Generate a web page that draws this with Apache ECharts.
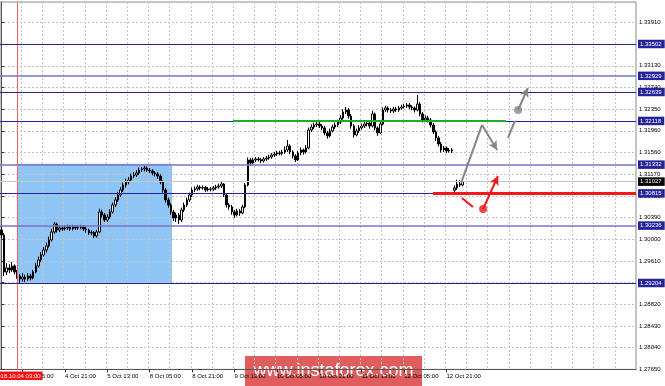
<!DOCTYPE html>
<html><head><meta charset="utf-8">
<script src="https://cdn.jsdelivr.net/npm/echarts@6/dist/echarts.min.js"></script>
<style>html,body{margin:0;padding:0;background:#fff}#c{width:665px;height:386px}</style>
</head><body><div id="c"></div>
<script>
// [open, close, low, high] H1 bars from 3 Oct 21:00
const bars = [
[1.30157,1.30067,1.30010,1.30230],[1.30067,1.29402,1.29330,1.30100],[1.29402,1.29474,1.29350,1.29560],[1.29474,1.29438,1.29380,1.29540],
[1.29438,1.29510,1.29400,1.29580],[1.29510,1.29402,1.29360,1.29540],[1.29402,1.29330,1.29280,1.29440],[1.29330,1.29276,1.29204,1.29360],
[1.29276,1.29312,1.29230,1.29380],[1.29312,1.29276,1.29220,1.29350],[1.29276,1.29330,1.29240,1.29380],[1.29330,1.29294,1.29250,1.29370],
[1.29294,1.29402,1.29270,1.29440],[1.29402,1.29510,1.29380,1.29560],[1.29510,1.29618,1.29480,1.29680],[1.29618,1.29708,1.29580,1.29760],
[1.29708,1.29798,1.29680,1.29850],[1.29798,1.29870,1.29750,1.29930],[1.29870,1.29978,1.29840,1.30040],[1.29978,1.30121,1.29950,1.30180],
[1.30121,1.30265,1.30090,1.30300],[1.30265,1.30157,1.30110,1.30290],[1.30157,1.30193,1.30120,1.30240],[1.30193,1.30175,1.30140,1.30230],
[1.30175,1.30193,1.30150,1.30240],[1.30193,1.30211,1.30160,1.30250],[1.30211,1.30175,1.30140,1.30240],[1.30175,1.30211,1.30150,1.30250],
[1.30211,1.30193,1.30160,1.30240],[1.30193,1.30200,1.30160,1.30240],[1.30200,1.30211,1.30170,1.30250],[1.30211,1.30175,1.30140,1.30240],
[1.30175,1.30157,1.30110,1.30210],[1.30157,1.30103,1.30070,1.30180],[1.30103,1.30110,1.30060,1.30150],[1.30110,1.30049,1.30010,1.30140],
[1.30049,1.30121,1.30020,1.30160],[1.30121,1.30481,1.30100,1.30540],[1.30481,1.30427,1.30380,1.30520],[1.30427,1.30337,1.30300,1.30460],
[1.30337,1.30391,1.30300,1.30440],[1.30391,1.30481,1.30360,1.30530],[1.30481,1.30607,1.30450,1.30650],[1.30607,1.30697,1.30570,1.30750],
[1.30697,1.30787,1.30660,1.30840],[1.30787,1.30877,1.30750,1.30930],[1.30877,1.30966,1.30840,1.31010],[1.30966,1.31020,1.30920,1.31080],
[1.31020,1.31056,1.30980,1.31110],[1.31056,1.31128,1.31020,1.31170],[1.31128,1.31146,1.31090,1.31200],[1.31146,1.31182,1.31110,1.31230],
[1.31182,1.31236,1.31150,1.31280],[1.31236,1.31254,1.31200,1.31290],[1.31254,1.31272,1.31210,1.31308],[1.31272,1.31236,1.31200,1.31300],
[1.31236,1.31218,1.31180,1.31270],[1.31218,1.31182,1.31140,1.31250],[1.31182,1.31164,1.31120,1.31220],[1.31164,1.31128,1.31080,1.31200],
[1.31128,1.31020,1.30980,1.31160],[1.31020,1.30877,1.30830,1.31050],[1.30877,1.30697,1.30650,1.30910],[1.30697,1.30607,1.30560,1.30740],
[1.30607,1.30481,1.30430,1.30640],[1.30481,1.30373,1.30320,1.30520],[1.30373,1.30427,1.30300,1.30470],[1.30427,1.30337,1.30265,1.30460],
[1.30337,1.30517,1.30300,1.30560],[1.30517,1.30607,1.30480,1.30650],[1.30607,1.30697,1.30570,1.30740],[1.30697,1.30787,1.30660,1.30830],
[1.30787,1.30877,1.30750,1.30920],[1.30877,1.30895,1.30840,1.30940],[1.30895,1.30930,1.30860,1.30970],[1.30930,1.30913,1.30870,1.30960],
[1.30913,1.30920,1.30880,1.30960],[1.30920,1.30877,1.30840,1.30950],[1.30877,1.30895,1.30850,1.30930],[1.30895,1.30890,1.30850,1.30930],
[1.30890,1.30913,1.30860,1.30950],[1.30913,1.30930,1.30880,1.30970],[1.30930,1.30948,1.30900,1.30990],[1.30948,1.30984,1.30910,1.31020],
[1.30984,1.30787,1.30750,1.31000],[1.30787,1.30607,1.30560,1.30820],[1.30607,1.30571,1.30520,1.30640],[1.30571,1.30481,1.30430,1.30610],
[1.30481,1.30427,1.30373,1.30520],[1.30427,1.30499,1.30400,1.30540],[1.30499,1.30463,1.30410,1.30530],[1.30463,1.30571,1.30440,1.30610],
[1.30571,1.30966,1.30550,1.31000],[1.30966,1.31416,1.30940,1.31460],[1.31416,1.31362,1.31310,1.31450],[1.31362,1.31416,1.31340,1.31460],
[1.31416,1.31434,1.31380,1.31470],[1.31434,1.31420,1.31390,1.31470],[1.31420,1.31398,1.31360,1.31450],[1.31398,1.31434,1.31370,1.31470],
[1.31434,1.31452,1.31400,1.31490],[1.31452,1.31470,1.31420,1.31510],[1.31470,1.31506,1.31440,1.31540],[1.31506,1.31524,1.31470,1.31560],
[1.31524,1.31542,1.31490,1.31580],[1.31542,1.31535,1.31500,1.31580],[1.31535,1.31560,1.31500,1.31600],[1.31560,1.31596,1.31530,1.31660],
[1.31596,1.31668,1.31560,1.31776],[1.31668,1.31560,1.31520,1.31700],[1.31560,1.31488,1.31440,1.31590],[1.31488,1.31416,1.31380,1.31520],
[1.31416,1.31542,1.31400,1.31580],[1.31542,1.31596,1.31500,1.31640],[1.31596,1.31560,1.31510,1.31620],[1.31560,1.31632,1.31530,1.31680],
[1.31632,1.31956,1.31610,1.32000],[1.31956,1.32009,1.31920,1.32060],[1.32009,1.32045,1.31970,1.32090],[1.32045,1.32063,1.32010,1.32110],
[1.32063,1.32027,1.31990,1.32100],[1.32027,1.31992,1.31950,1.32060],[1.31992,1.31902,1.31860,1.32030],[1.31902,1.31848,1.31800,1.31940],
[1.31848,1.31938,1.31820,1.31980],[1.31938,1.32009,1.31910,1.32050],[1.32009,1.32045,1.31970,1.32090],[1.32045,1.32099,1.32010,1.32140],
[1.32099,1.32171,1.32060,1.32220],[1.32171,1.32279,1.32140,1.32330],[1.32279,1.32315,1.32240,1.32369],[1.32315,1.32207,1.32160,1.32350],
[1.32207,1.32027,1.31980,1.32240],[1.32027,1.31866,1.31820,1.32060],[1.31866,1.31938,1.31840,1.31980],[1.31938,1.31992,1.31900,1.32040],
[1.31992,1.32027,1.31960,1.32070],[1.32027,1.32063,1.31990,1.32110],[1.32063,1.32081,1.32020,1.32130],[1.32081,1.32027,1.31980,1.32120],
[1.32027,1.32243,1.32000,1.32300],[1.32243,1.31992,1.31950,1.32270],[1.31992,1.31902,1.31850,1.32020],[1.31902,1.32063,1.31880,1.32110],
[1.32063,1.32315,1.32040,1.32360],[1.32315,1.32351,1.32280,1.32390],[1.32351,1.32315,1.32270,1.32380],[1.32315,1.32297,1.32260,1.32350],
[1.32297,1.32333,1.32260,1.32370],[1.32333,1.32315,1.32280,1.32370],[1.32315,1.32351,1.32280,1.32390],[1.32351,1.32369,1.32320,1.32410],
[1.32369,1.32387,1.32340,1.32420],[1.32387,1.32405,1.32350,1.32440],[1.32405,1.32369,1.32330,1.32440],[1.32369,1.32351,1.32310,1.32400],
[1.32351,1.32315,1.32270,1.32380],[1.32315,1.32423,1.32290,1.32585],[1.32423,1.32243,1.32200,1.32460],[1.32243,1.32135,1.32090,1.32280],
[1.32135,1.32171,1.32100,1.32220],[1.32171,1.32135,1.32090,1.32210],[1.32135,1.32045,1.32000,1.32170],[1.32045,1.31920,1.31880,1.32080],
[1.31920,1.31812,1.31760,1.31950],[1.31812,1.31704,1.31660,1.31850],[1.31704,1.31596,1.31550,1.31740],[1.31596,1.31632,1.31560,1.31670],
[1.31632,1.31578,1.31540,1.31660],[1.31578,1.31596,1.31550,1.31630],[1.31596,1.31578,1.31540,1.31630],
[1.30870,1.30913,1.30841,1.30960],[1.30913,1.30984,1.30880,1.31060],[1.30984,1.30966,1.30930,1.31050],[1.30966,1.31027,1.30940,1.31070]
];
const nCats = 240;
const xLabels = ['4 Oct 05:00','4 Oct 21:00','5 Oct 13:00','8 Oct 05:00','8 Oct 21:00','9 Oct 13:00','10 Oct 05:00','10 Oct 21:00','11 Oct 13:00','12 Oct 05:00','12 Oct 21:00'];
const yLabels = ['1.27650','1.28040','1.28430','1.28820','1.29220','1.29610','1.30000','1.30390','1.30780','1.31170','1.31560','1.31960','1.32350','1.32740','1.33130','1.33520','1.33910'];
const yMin = 1.2765, yMax = 1.34257, yStep = 0.0039;
const levels = [1.33502, 1.32929, 1.32639, 1.32118, 1.31332, 1.30815, 1.30236, 1.29204];
const levelLight = [false, true, false, false, true, false, true, false];
const bidPrice = 1.31027;
const markerIdx = 6, markerText = '2018.10.04 03:00';
const zoneX = [6, 64.4], zoneY = [1.3135, 1.29204];
const greenX = [87.4, 190.4], greenY = 1.32118;
const redX = [162.9, 239.5], redY = 1.30815;
const grayPath = [[173.5, 1.31003], [181.4, 1.32046], [187.1, 1.31596]];
const graySeg = [[191.2, 1.31812], [193.8, 1.32117]];
const grayDot = [195, 1.32315], grayTip = [198.7, 1.32711];
const redSeg = [[173.8, 1.30733], [178, 1.30571]];
const redDot = [181.8, 1.30535], redTip = [187.4, 1.31128];

const FONT = 'Liberation Sans';
const NAVY = '#24249a';
const cats = Array.from({length: nCats}, (_, i) => String(i));
const isLab = i => i >= 8 && i <= 168 && (i - 8) % 16 === 0;

function seg(a, b, color, width, arrow) {
  return [{coord: a, symbol: 'none', lineStyle: {color, width, type: 'solid'}},
          {coord: b, symbol: arrow ? 'arrow' : 'none', symbolSize: arrow ? [7, 9] : 0}];
}

const levelLines = levels.map((v, i) => ({
  yAxis: v,
  lineStyle: {color: levelLight[i] ? '#7676c6' : NAVY, width: levelLight[i] ? 1.5 : 1.2, type: 'solid'},
  label: {show: true, position: 'end', distance: 2, formatter: v.toFixed(5), color: '#fff',
    backgroundColor: NAVY, padding: [1.5, 3, 1, 2], fontSize: 6, fontFamily: FONT}
}));
levelLines.push({
  yAxis: bidPrice, lineStyle: {color: '#c8c8c8', width: 1, type: 'solid'},
  label: {show: true, position: 'end', distance: 2, formatter: bidPrice.toFixed(5), color: '#fff',
    backgroundColor: '#000', padding: [1.5, 3, 1, 2], fontSize: 6, fontFamily: FONT}
});

const chart = echarts.init(document.getElementById('c'), null, {renderer: 'canvas'});
chart.setOption({
  animation: false,
  backgroundColor: '#fff',
  grid: {left: 0, right: 29, top: 2, bottom: 16.6, show: true, borderColor: '#8a8a8a', borderWidth: 1, containLabel: false},
  xAxis: [{
    type: 'category', data: cats, boundaryGap: true,
    axisLine: {show: true, lineStyle: {color: '#555', width: 1}},
    axisTick: {show: true, alignWithLabel: true, length: 3, interval: (i) => isLab(i), lineStyle: {color: '#333'}},
    axisLabel: {show: true, interval: (i) => isLab(i), align: 'left', margin: 4, fontSize: 6, fontFamily: FONT, color: '#000',
      formatter: (v, i) => xLabels[(i - 8) / 16] || ''},
    splitLine: {show: true, interval: (i) => i % 8 === 0, lineStyle: {color: '#c4c4c4', width: 1, type: [2, 2]}}
  }, {
    type: 'value', min: -0.5, max: nCats - 0.5, show: false, splitLine: {show: false}
  }],
  yAxis: {
    type: 'value', position: 'right', min: yMin, max: yMax, interval: yStep, scale: true,
    axisLine: {show: true, lineStyle: {color: '#555', width: 1}},
    axisTick: {show: true, length: 3, lineStyle: {color: '#333'}},
    axisLabel: {show: true, margin: 3, fontSize: 6, fontFamily: FONT, color: '#000', showMaxLabel: false,
      formatter: v => { const k = Math.round((v - yMin) / yStep); return Math.abs(yMin + k * yStep - v) < 1e-6 ? (yLabels[k] || '') : ''; }},
    splitLine: {show: true, lineStyle: {color: '#c4c4c4', width: 1, type: [2, 2]}}
  },
  series: [
    {
      type: 'line', xAxisIndex: 1, data: [], silent: true,
      markArea: {silent: true, z: -1, itemStyle: {color: '#8fc4f6', opacity: 1},
        data: [[{coord: [zoneX[0], zoneY[0]]}, {coord: [zoneX[1], zoneY[1]]}]]}
    },
    {
      type: 'line', xAxisIndex: 1, data: [], silent: true,
      markLine: {silent: true, precision: 5, symbol: ['none', 'none'], animation: false,
        lineStyle: {color: '#ff6464', width: 1, type: 'solid', opacity: 1},
        label: {show: true, position: 'start', distance: 2, formatter: markerText, color: '#fff', backgroundColor: '#ff1010',
          padding: [1.5, 2, 1, 2], fontSize: 6, fontFamily: FONT},
        data: [{xAxis: markerIdx}]}
    },
    {
      type: 'candlestick', xAxisIndex: 0, data: bars, barWidth: 2, z: 3, silent: true,
      itemStyle: {color: '#ffffff', color0: '#000000', borderColor: '#000000', borderColor0: '#000000', borderWidth: 1},
      markLine: {silent: true, precision: 5, symbol: ['none', 'none'], animation: false, data: levelLines}
    },
    {
      type: 'line', xAxisIndex: 1, data: [], silent: true, z: 4,
      markLine: {silent: true, precision: 5, symbol: ['none', 'none'], animation: false,
        label: {show: false},
        data: [
          [{coord: [greenX[0], greenY], symbol: 'none', lineStyle: {color: '#1faa2a', width: 2, type: 'solid'}}, {coord: [greenX[1], greenY], symbol: 'none'}],
          [{coord: [redX[0], redY], symbol: 'none', lineStyle: {color: '#f01818', width: 3, type: 'solid'}}, {coord: [redX[1], redY], symbol: 'none'}],
          seg(grayPath[0], grayPath[1], '#868686', 2, false),
          seg(grayPath[1], grayPath[2], '#868686', 2, true),
          seg(graySeg[0], graySeg[1], '#868686', 2, false),
          seg(grayDot, grayTip, '#868686', 2, true),
          seg(redSeg[0], redSeg[1], '#f01818', 2, false),
          seg(redDot, redTip, '#f01818', 2, true)
        ]}
    },
    {
      type: 'scatter', xAxisIndex: 1, silent: true, z: 5, symbolSize: 8,
      data: [{value: grayDot, itemStyle: {color: '#868686'}}, {value: redDot, itemStyle: {color: '#f01818'}}]
    }
  ],
  graphic: [{
    type: 'group', left: 245, top: 356, z: 100,
    children: [
      {type: 'rect', shape: {x: 0, y: 0, width: 177, height: 30}, style: {fill: 'rgba(214,48,48,0.78)'}},
      {type: 'text', x: 88.5, y: 15, style: {text: 'www.instaforex.com', fill: '#fff', font: '18px "Liberation Sans"', align: 'center', verticalAlign: 'middle'}}
    ]
  }]
});
</script></body></html>
